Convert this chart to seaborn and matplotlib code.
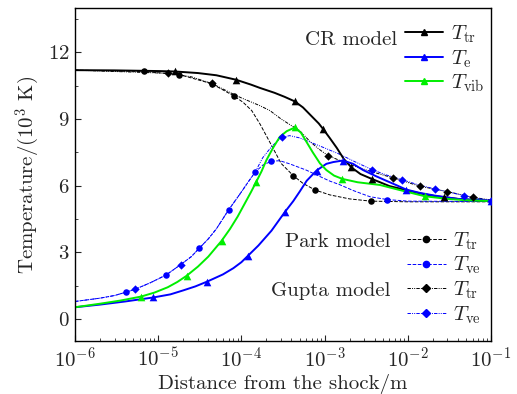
import matplotlib
matplotlib.use("Agg")
import matplotlib.pyplot as plt
import seaborn as sns
import numpy as np
from matplotlib.lines import Line2D
from matplotlib.ticker import LogLocator, MultipleLocator, NullFormatter

# ---------------- data ----------------
# CR model, T_tr (black solid)
cr_tr_x = [1e-6, 3e-6, 1e-5, 1.6e-5, 3e-5, 5e-5, 8.6e-5, 1.3e-4, 1.67e-4, 2.5e-4, 3.3e-4, 4.4e-4,
           5.5e-4, 7e-4, 8.5e-4, 9.5e-4, 1.15e-3, 1.4e-3, 1.7e-3, 2.1e-3, 2.7e-3, 3.7e-3,
           6e-3, 9.7e-3, 1.4e-2, 2.1e-2, 4e-2, 1e-1]
cr_tr_y = [11.2, 11.19, 11.16, 11.14, 11.07, 10.97, 10.77, 10.55, 10.4, 10.18, 10.0, 9.79,
           9.52, 9.12, 8.8, 8.57, 8.15, 7.7, 7.2, 6.82, 6.52, 6.3,
           5.98, 5.79, 5.65, 5.53, 5.4, 5.3]
cr_tr_mx = [1.6e-5, 8.6e-5, 4.4e-4, 9.5e-4, 2.1e-3, 3.7e-3, 2.7e-2]
cr_tr_my = [11.14, 10.77, 9.79, 8.57, 6.82, 6.3, 5.48]

# CR model, T_e (blue solid)
cr_e_x = [1e-6, 2e-6, 4e-6, 8.7e-6, 1.4e-5, 2e-5, 2.8e-5, 3.9e-5, 6e-5, 8e-5, 1e-4, 1.2e-4,
          1.6e-4, 2.3e-4, 3.3e-4, 4.2e-4, 5e-4, 6.1e-4, 8e-4, 1.05e-3, 1.27e-3, 1.66e-3,
          2.2e-3, 2.9e-3, 4e-3, 5.5e-3, 7.5e-3, 9.6e-3, 1.4e-2, 2.1e-2, 4e-2, 1e-1]
cr_e_y = [0.52, 0.64, 0.78, 0.96, 1.1, 1.28, 1.46, 1.68, 2.0, 2.28, 2.55, 2.84,
          3.3, 3.97, 4.79, 5.3, 5.72, 6.22, 6.68, 6.98, 7.06, 7.13,
          6.98, 6.7, 6.45, 6.22, 6.0, 5.82, 5.67, 5.55, 5.4, 5.32]
cr_e_mx = [8.7e-6, 3.9e-5, 1.2e-4, 3.3e-4, 8e-4, 1.66e-3, 9.6e-3, 1e-1]
cr_e_my = [0.96, 1.68, 2.84, 4.79, 6.68, 7.13, 5.82, 5.32]

# CR model, T_vib (green solid)
cr_vib_x = [1e-6, 2e-6, 3.5e-6, 6.2e-6, 9e-6, 1.3e-5, 1.7e-5, 2.2e-5, 3e-5, 4e-5, 5.8e-5, 7.3e-5,
            9e-5, 1.1e-4, 1.3e-4, 1.5e-4, 1.75e-4, 2e-4, 2.4e-4, 2.9e-4, 3.5e-4, 4.4e-4, 5.2e-4,
            6.1e-4, 7.2e-4, 8.8e-4, 1.05e-3, 1.3e-3, 1.64e-3, 2.5e-3, 4.6e-3, 8e-3, 1.6e-2,
            3e-2, 4.6e-2, 1e-1]
cr_vib_y = [0.52, 0.68, 0.82, 1.0, 1.18, 1.42, 1.66, 1.94, 2.35, 2.8, 3.52, 4.05,
            4.6, 5.2, 5.7, 6.15, 6.65, 7.15, 7.7, 8.2, 8.45, 8.62, 8.38,
            7.95, 7.5, 7.0, 6.7, 6.45, 6.3, 6.15, 6.03, 5.8, 5.52,
            5.4, 5.35, 5.3]
cr_vib_mx = [6.2e-6, 2.2e-5, 5.8e-5, 1.5e-4, 4.4e-4, 1.64e-3, 1.6e-2]
cr_vib_my = [1.0, 1.94, 3.52, 6.15, 8.62, 6.3, 5.52]

# Park model, T_tr (black dashed)
park_tr_x = [1e-6, 6.7e-6, 1.8e-5, 4.4e-5, 8.2e-5, 1.05e-4, 1.33e-4, 1.67e-4, 2.2e-4, 3e-4, 4.2e-4,
             5.5e-4, 7.7e-4, 1.16e-3, 2e-3, 3.6e-3, 1e-2, 1e-1]
park_tr_y = [11.2, 11.14, 11.0, 10.59, 10.03, 9.75, 9.38, 8.78, 7.95, 7.0, 6.45,
             6.1, 5.8, 5.58, 5.4, 5.3, 5.27, 5.27]
park_tr_mx = [6.7e-6, 1.8e-5, 4.4e-5, 8.2e-5, 4.2e-4, 7.7e-4, 3.6e-3]
park_tr_my = [11.14, 11.0, 10.59, 10.03, 6.45, 5.8, 5.3]

# Park model, T_ve (blue dashed)
park_ve_x = [1e-6, 2e-6, 3e-6, 4.1e-6, 5.2e-6, 8e-6, 1.24e-5, 1.86e-5, 2.5e-5, 3.1e-5, 4e-5, 5e-5,
             7e-5, 9.6e-5, 1.2e-4, 1.46e-4, 1.8e-4, 2.3e-4, 2.9e-4, 3.8e-4, 6e-4, 9.5e-4,
             1.16e-3, 1.5e-3, 2.2e-3, 3.5e-3, 5.7e-3, 1e-2, 1e-1]
park_ve_y = [0.78, 0.93, 1.05, 1.2, 1.32, 1.62, 1.97, 2.44, 2.8, 3.17, 3.6, 4.05,
             4.9, 5.62, 6.15, 6.6, 6.92, 7.1, 7.12, 6.98, 6.7, 6.35,
             6.2, 6.05, 5.78, 5.5, 5.37, 5.3, 5.28]
park_ve_mx = [4.1e-6, 1.24e-5, 3.1e-5, 7e-5, 1.46e-4, 2.3e-4, 5.7e-3]
park_ve_my = [1.2, 1.97, 3.17, 4.9, 6.6, 7.1, 5.37]

# Gupta model, T_tr (black dash-dot)
gupta_tr_x = [1e-6, 1.3e-5, 2.5e-5, 4.4e-5, 8e-5, 1e-4, 1.67e-4, 2.2e-4, 3e-4, 4e-4, 5e-4,
              6.7e-4, 8.5e-4, 1.1e-3, 2e-3, 3.5e-3, 6.6e-3, 1.4e-2, 3e-2, 6.1e-2, 1e-1]
gupta_tr_y = [11.2, 11.06, 10.9, 10.6, 10.12, 9.95, 9.6, 9.38, 9.0, 8.7, 8.48,
              7.98, 7.65, 7.35, 6.95, 6.65, 6.35, 5.97, 5.73, 5.47, 5.35]
gupta_tr_mx = [1.3e-5, 4.4e-5, 1.1e-3, 6.6e-3, 1.4e-2, 3e-2, 6.1e-2]
gupta_tr_my = [11.06, 10.6, 7.35, 6.35, 5.97, 5.73, 5.47]

# Gupta model, T_ve (blue dash-dot)
gupta_ve_x = [1e-6, 2e-6, 3e-6, 4.1e-6, 5.2e-6, 8e-6, 1.24e-5, 1.86e-5, 2.5e-5, 3.1e-5, 4e-5, 5e-5,
              7e-5, 9.6e-5, 1.2e-4, 1.46e-4, 1.8e-4, 2.3e-4, 2.7e-4, 3.1e-4, 3.8e-4, 5e-4,
              6.5e-4, 9.5e-4, 1.5e-3, 2.3e-3, 3.7e-3, 5.5e-3, 8.5e-3, 1.3e-2, 2.1e-2,
              3e-2, 4.7e-2, 7e-2, 1e-1]
gupta_ve_y = [0.78, 0.93, 1.05, 1.2, 1.32, 1.62, 1.97, 2.44, 2.8, 3.17, 3.6, 4.05,
              4.9, 5.62, 6.15, 6.6, 7.25, 7.75, 8.0, 8.18, 8.25, 8.15,
              7.98, 7.73, 7.42, 7.08, 6.72, 6.48, 6.27, 6.05, 5.85,
              5.72, 5.55, 5.42, 5.32]
gupta_ve_mx = [5.2e-6, 1.86e-5, 3.1e-4, 3.7e-3, 8.5e-3, 2.1e-2, 4.7e-2, 1e-1]
gupta_ve_my = [1.32, 2.44, 8.18, 6.72, 6.27, 5.85, 5.55, 5.32]

y_ticks = [0, 3, 6, 9, 12]

# ---------------- style ----------------
sns.set_theme(style="ticks")
plt.rcParams["font.family"] = ["cmr10"]
plt.rcParams["mathtext.fontset"] = "cm"
plt.rcParams["axes.formatter.use_mathtext"] = True
plt.rcParams["font.size"] = 15

BLACK, BLUE, GREEN = "#000000", "#0000ff", "#00ee00"
GUPTA_LS = (0, (3.5, 1.2, 1, 1.2, 1, 1.2))

fig = plt.figure(figsize=(5.17, 3.94), dpi=100)
ax = fig.add_axes([75 / 517, (394 - 341) / 394, (491 - 75) / 517, (341 - 8) / 394])
ax.set_xscale("log")

series = [
    (park_tr_x, park_tr_y, park_tr_mx, park_tr_my, BLACK, "--", 0.7, "o", 22),
    (park_ve_x, park_ve_y, park_ve_mx, park_ve_my, BLUE, "--", 0.7, "o", 22),
    (gupta_tr_x, gupta_tr_y, gupta_tr_mx, gupta_tr_my, BLACK, GUPTA_LS, 0.7, "D", 18),
    (gupta_ve_x, gupta_ve_y, gupta_ve_mx, gupta_ve_my, BLUE, GUPTA_LS, 0.7, "D", 18),
    (cr_tr_x, cr_tr_y, cr_tr_mx, cr_tr_my, BLACK, "-", 1.4, "^", 30),
    (cr_e_x, cr_e_y, cr_e_mx, cr_e_my, BLUE, "-", 1.4, "^", 30),
    (cr_vib_x, cr_vib_y, cr_vib_mx, cr_vib_my, GREEN, "-", 1.4, "^", 30),
]
for xs, ys, mx, my, col, ls, lw, mk, ms in series:
    sns.lineplot(x=xs, y=ys, ax=ax, color=col, linestyle=ls, linewidth=lw,
                 estimator=None, sort=False, legend=False)
    sns.scatterplot(x=mx, y=my, ax=ax, color=col, marker=mk, s=ms, linewidth=0,
                    legend=False, zorder=3)

ax.set_xlim(1e-6, 1e-1)
ax.set_ylim(-1, 14)
ax.xaxis.set_major_locator(LogLocator(base=10, numticks=10))
ax.xaxis.set_minor_locator(LogLocator(base=10, subs=np.arange(2, 10), numticks=20))
ax.xaxis.set_minor_formatter(NullFormatter())
ax.set_yticks(y_ticks)
ax.yaxis.set_minor_locator(MultipleLocator(1.5))
ax.tick_params(which="both", direction="in", top=False, right=False, labelsize=15)
ax.tick_params(which="major", length=4.5, width=0.8, pad=4)
ax.tick_params(which="minor", length=2.5, width=0.6)
for s in ax.spines.values():
    s.set_linewidth(1.0)
    s.set_color("black")

ax.set_xlabel("Distance from the shock/m", fontsize=15, labelpad=2)
ax.set_ylabel("Temperature/(10$^{3}$ K)", fontsize=15, labelpad=4)

# ---------------- legends ----------------
def h(col, ls, lw, mk, ms):
    return Line2D([], [], color=col, linestyle=ls, linewidth=lw, marker=mk, markersize=ms)

leg_kw = dict(frameon=False, fontsize=15, borderpad=0, borderaxespad=0,
              handlelength=1.85, handletextpad=0.35, labelspacing=0.14, loc="upper left")

leg1 = ax.legend([h(BLACK, "-", 1.4, "^", 5), h(BLUE, "-", 1.4, "^", 5), h(GREEN, "-", 1.4, "^", 5)],
                 [r"$T_{\rm tr}$", r"$T_{\rm e}$", r"$T_{\rm vib}$"],
                 bbox_to_anchor=(0.793, 0.953), **leg_kw)
ax.add_artist(leg1)
leg2 = ax.legend([h(BLACK, "--", 0.7, "o", 4.5), h(BLUE, "--", 0.7, "o", 4.5)],
                 [r"$T_{\rm tr}$", r"$T_{\rm ve}$"],
                 bbox_to_anchor=(0.798, 0.332), **leg_kw)
ax.add_artist(leg2)
leg3 = ax.legend([h(BLACK, GUPTA_LS, 0.7, "D", 4), h(BLUE, GUPTA_LS, 0.7, "D", 4)],
                 [r"$T_{\rm tr}$", r"$T_{\rm ve}$"],
                 bbox_to_anchor=(0.798, 0.184), **leg_kw)

ax.text(0.774, 0.889, "CR model", transform=ax.transAxes, ha="right", va="baseline", fontsize=15)
ax.text(0.757, 0.282, "Park model", transform=ax.transAxes, ha="right", va="baseline", fontsize=15)
ax.text(0.757, 0.135, "Gupta model", transform=ax.transAxes, ha="right", va="baseline", fontsize=15)

fig.savefig("out.png", dpi=100)
